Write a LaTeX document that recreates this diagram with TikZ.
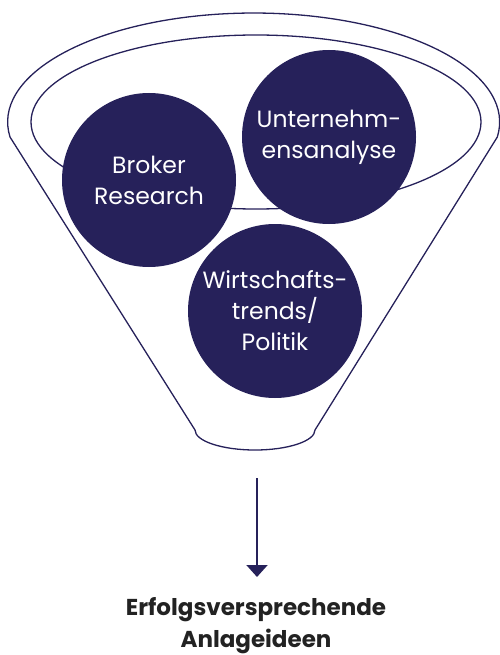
\documentclass[tikz,border=0pt]{standalone}
\usepackage{fontspec}
\setmainfont{Poppins}
\usetikzlibrary{arrows.meta}
\definecolor{navy}{HTML}{26215A}
\definecolor{ink}{HTML}{222222}

\begin{document}
\begin{tikzpicture}[x=1pt, y=-1pt,
funnel/.style={navy, line width=1.3pt},
topic/.style={circle, fill=navy, minimum size=174pt, inner sep=0pt,
  text=white, align=center, font=\fontsize{23.5}{31}\selectfont},
result/.style={text=ink, align=center, inner sep=0pt,
  font=\fontsize{23}{32}\selectfont\bfseries},
flow/.style={navy, line width=2pt, -{Triangle[width=21pt,length=12pt]}}]

\useasboundingbox (0,0) rectangle (499,655);

\pgfmathsetmacro{\rxOut}{246}
\pgfmathsetmacro{\ryOut}{109}
\pgfmathsetmacro{\rxIn}{225}
\pgfmathsetmacro{\ryIn}{87}

% FUNNEL
\draw[funnel] (10,137) arc[start angle=172.1, end angle=367.9, x radius=\rxOut, y radius=\ryOut]
  -- (315,430) arc[start angle=0, end angle=180, x radius=60, y radius=20] -- cycle;
\draw[funnel] (256,122) ellipse[x radius=\rxIn, y radius=\ryIn];

% TOPICS
\node[topic] (broker) at (149,180) {Broker\\Research};
\node[topic] (company) at (329,137) {Unternehm-\\ensanalyse};
\node[topic] (economy) at (275,311) {Wirtschafts-\\trends/\\Politik};

% RESULT
\node[result, anchor=north] (ideas) at (256,597) {Erfolgsversprechende\\Anlageideen};
\coordinate (tail) at (257,478);
\draw[flow, shorten >=20pt] (tail) -- (tail |- ideas.north);

\end{tikzpicture}
\end{document}
